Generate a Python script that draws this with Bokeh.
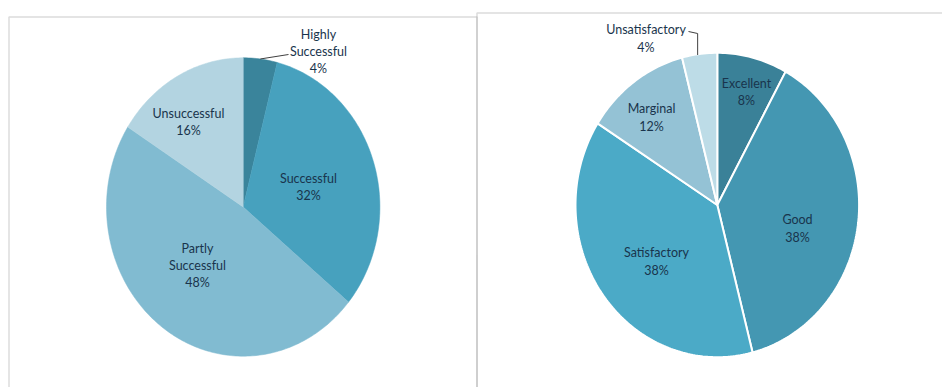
import numpy as np
from bokeh.plotting import figure
from bokeh.models import Range1d, BoxAnnotation, ColumnDataSource
from bokeh.core.properties import value
from bokeh.embed import file_html
from bokeh.resources import INLINE

# ---------------- data ----------------
outcome_categories = ["Highly Successful", "Successful", "Partly Successful", "Unsuccessful"]
outcome_label_names = ["Highly\nSuccessful", "Successful", "Partly\nSuccessful", "Unsuccessful"]
outcome_shares = [4, 32, 48, 16]

rating_categories = ["Excellent", "Good", "Satisfactory", "Marginal", "Unsatisfactory"]
rating_label_names = ["Excellent", "Good", "Satisfactory", "Marginal", "Unsatisfactory"]
rating_shares = [8, 38, 38, 12, 4]

# ---------------- layout / style ----------------
W, H = 942, 387
PIE_A = dict(cx=242.7, cy=206.5, rx=136.7, ry=149.2)
PIE_B = dict(cx=716.8, cy=204.5, rx=140.8, ry=151.2)
colors_a = ["#3a849b", "#47a1be", "#81bbd1", "#b3d4e1"]
colors_b = ["#3a8198", "#4497b2", "#4baac7", "#94c2d5", "#bddce7"]
label_pos_a = [(318, 51), (308, 186.5), (197, 265), (188, 121.5)]
label_pos_b = [(746, 91.5), (797, 228), (656, 261), (651, 117), (645.5, 38)]
TEXT_COLOR = "#19344c"
FONT = value("Lato")
FONT_SIZE = "12.5px"
FRAME_COLOR = "#8c8c8c"

p = figure(width=W, height=H, output_backend="svg", toolbar_location=None,
           x_range=Range1d(0, W), y_range=Range1d(H, 0), min_border=0)
p.axis.visible = False
p.grid.visible = False
p.outline_line_color = None
p.background_fill_color = "white"
p.border_fill_color = "white"


def slice_polys(shares, cx, cy, rx, ry):
    total = float(sum(shares))
    edges = np.concatenate([[0.0], np.cumsum(shares)]) / total * 2 * np.pi
    xs, ys, mids = [], [], []
    for a0, a1 in zip(edges[:-1], edges[1:]):
        n = max(int((a1 - a0) / (2 * np.pi) * 360), 3)
        t = np.linspace(a0, a1, n)
        xs.append([cx] + list(cx + rx * np.sin(t)))
        ys.append([cy] + list(cy - ry * np.cos(t)))
        mids.append((a0 + a1) / 2)
    return xs, ys, mids


# frames
p.add_layout(BoxAnnotation(left=8.5, right=476.5, top=16.5, bottom=420,
                           fill_alpha=0, line_color=FRAME_COLOR, line_width=1.5))
p.add_layout(BoxAnnotation(left=476.5, right=990, top=12.5, bottom=420,
                           fill_alpha=0, line_color=FRAME_COLOR, line_width=1.5))

# left pie (no separators)
xa, ya, mida = slice_polys(outcome_shares, **PIE_A)
src_a = ColumnDataSource(dict(xs=xa, ys=ya, color=colors_a, cat=outcome_categories))
p.patches("xs", "ys", source=src_a, fill_color="color", line_color="color", line_width=0.5)

# right pie (white separators)
xb, yb, midb = slice_polys(rating_shares, PIE_B["cx"], PIE_B["cy"], PIE_B["rx"] + 1, PIE_B["ry"] + 1)
src_b = ColumnDataSource(dict(xs=xb, ys=yb, color=colors_b, cat=rating_categories))
p.patches("xs", "ys", source=src_b, fill_color="color", line_color="white", line_width=2)

# leader lines
m = mida[0]
ex = PIE_A["cx"] + PIE_A["rx"] * np.sin(m)
ey = PIE_A["cy"] - PIE_A["ry"] * np.cos(m)
p.line([ex, 288], [ey, 54], line_color="#404040", line_width=1)

m = midb[4]
ex = PIE_B["cx"] + PIE_B["rx"] * np.sin(m)
ey = PIE_B["cy"] - PIE_B["ry"] * np.cos(m)
p.line([688, ex - 2, ex - 2], [31, 33, ey], line_color="#404040", line_width=1)

# labels
def labels(names, shares, pos):
    return dict(x=[q[0] for q in pos], y=[q[1] for q in pos],
                text=[f"{n}\n{s}%" for n, s in zip(names, shares)])

for names, shares, pos in ((outcome_label_names, outcome_shares, label_pos_a),
                           (rating_label_names, rating_shares, label_pos_b)):
    p.text("x", "y", text="text", source=ColumnDataSource(labels(names, shares, pos)),
           text_align="center", text_baseline="middle", text_font=FONT,
           text_font_size=FONT_SIZE, text_color=TEXT_COLOR, text_line_height=1.15)

open("out.html", "w").write(file_html(p, INLINE))
